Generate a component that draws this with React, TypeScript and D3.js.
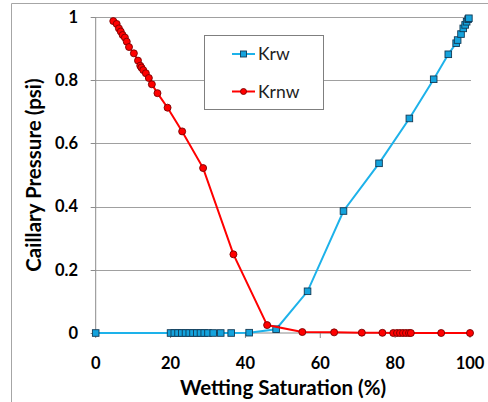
import React from "react";
import * as d3 from "d3";

const krwX = [0, 20, 21, 22, 23, 24, 25, 26, 27, 28, 29, 30, 31.4, 33.4, 36.2, 41.0, 48.2, 56.6, 66.2, 75.7, 83.8, 90.3, 94.2, 96.3, 96.7, 97.6, 98.2, 98.7, 99.1, 99.5, 99.7];
const krwY = [0, 0, 0, 0, 0, 0, 0, 0, 0, 0, 0, 0, 0, 0, 0, 0.001, 0.012, 0.132, 0.386, 0.537, 0.679, 0.803, 0.882, 0.917, 0.927, 0.946, 0.964, 0.975, 0.985, 0.993, 0.996];

const krnwX = [4.7, 5.6, 6.2, 6.7, 7.2, 7.8, 8.3, 8.9, 10.2, 11.3, 11.9, 12.2, 12.7, 13.4, 14.2, 15.0, 16.5, 19.2, 23.1, 28.7, 36.8, 45.8, 55.2, 63.7, 71.1, 76.6, 79.5, 80.5, 81.3, 82.1, 82.9, 83.7, 84.2, 92.3, 100];
const krnwY = [0.987, 0.978, 0.964, 0.954, 0.943, 0.935, 0.922, 0.905, 0.885, 0.862, 0.846, 0.84, 0.832, 0.822, 0.807, 0.787, 0.759, 0.713, 0.638, 0.522, 0.249, 0.025, 0.003, 0.002, 0.001, 0.0005, 0, 0, 0, 0, 0, 0, 0, 0, 0];

const xTicks = [0, 20, 40, 60, 80, 100];
const yTicks = [0, 0.2, 0.4, 0.6, 0.8, 1];
const yTickLabels = ["0", "0.2", "0.4", "0.6", "0.8", "1"];
const seriesNames = ["Krw", "Krnw"];
const xTitle = "Wetting Saturation (%)";
const yTitle = "Caillary Pressure (psi)";

const BLUE = "#1DB2EA";
const BLUE_FILL = "#14A3DD";
const RED = "#FF0000";
const FONT = "Lato, 'Open Sans', sans-serif";

export default function App() {
  const x = d3.scaleLinear().domain([0, 100]).range([95.7, 470]);
  const y = d3.scaleLinear().domain([0, 1]).range([333, 17]);

  const blue = krwX.map((v, i) => [x(v), y(krwY[i])] as [number, number]);
  const red = krnwX.map((v, i) => [x(v), y(krnwY[i])] as [number, number]);
  const line = d3.line();

  return (
    <svg width={488} height={402} style={{ position: "fixed", left: 0, top: 0, background: "#fff" }}>
      <rect x={0} y={0} width={488} height={402} fill="#fff" />
      <path d="M11.5,410 V3.5 H500" fill="none" stroke="#A6A6A6" strokeWidth={1} />
      {/* gridlines */}
      {yTicks.filter(t => t > 0).map(t => (
        <line key={t} x1={x(0)} x2={471} y1={Math.round(y(t)) + 0.5} y2={Math.round(y(t)) + 0.5} stroke="#A0A0A0" strokeWidth={1} />
      ))}
      {/* axes */}
      <line x1={x(0)} x2={x(0)} y1={y(1)} y2={y(0)} stroke="#8C8C8C" strokeWidth={1} />
      <line x1={x(0)} x2={471} y1={y(0)} y2={y(0)} stroke="#8C8C8C" strokeWidth={1} />
      {yTicks.map(t => (
        <line key={"yt" + t} x1={x(0) - 5} x2={x(0)} y1={Math.round(y(t)) + 0.5} y2={Math.round(y(t)) + 0.5} stroke="#8C8C8C" />
      ))}
      {xTicks.map(t => (
        <line key={"xt" + t} x1={x(t)} x2={x(t)} y1={y(0)} y2={y(0) + 5} stroke="#8C8C8C" />
      ))}
      {/* tick labels */}
      {yTicks.map((t, i) => (
        <text key={"yl" + t} x={78} y={y(t)} dy="0.35em" textAnchor="end" fontFamily={FONT} fontWeight="bold" fontSize={16.5} fill="#000">{yTickLabels[i]}</text>
      ))}
      {xTicks.map(t => (
        <text key={"xl" + t} x={x(t)} y={363} dy="0.35em" textAnchor="middle" fontFamily={FONT} fontWeight="bold" fontSize={16.5} fill="#000">{t}</text>
      ))}
      {/* titles */}
      <text x={283} y={388} dy="0.35em" textAnchor="middle" fontFamily={FONT} fontWeight="bold" fontSize={20.5} fill="#000">{xTitle}</text>
      <text transform="translate(33.5,175) rotate(-90)" dy="0.35em" textAnchor="middle" fontFamily={FONT} fontWeight="bold" fontSize={20.5} fill="#000">{yTitle}</text>
      {/* series */}
      <path d={line(blue) || ""} fill="none" stroke={BLUE} strokeWidth={2} />
      {blue.map((p, i) => (
        <rect key={"b" + i} x={p[0] - 3.3} y={p[1] - 3.3} width={6.6} height={6.6} fill={BLUE_FILL} stroke="#123A55" strokeWidth={0.9} />
      ))}
      <path d={line(red) || ""} fill="none" stroke={RED} strokeWidth={2} />
      {red.map((p, i) => (
        <circle key={"r" + i} cx={p[0]} cy={p[1]} r={3.5} fill={RED} stroke="#7A0000" strokeWidth={0.9} />
      ))}
      {/* legend */}
      <rect x={204.5} y={35.5} width={119} height={74} fill="#fff" stroke="#7F7F7F" strokeWidth={1} />
      <line x1={232} x2={255} y1={54} y2={54} stroke={BLUE} strokeWidth={2} />
      <rect x={240.5} y={51} width={6} height={6} fill={BLUE_FILL} stroke="#123A55" strokeWidth={0.9} />
      <text x={258} y={54} dy="0.35em" fontFamily={FONT} fontSize={17.5} fill="#222">{seriesNames[0]}</text>
      <line x1={232} x2={255} y1={91.5} y2={91.5} stroke={RED} strokeWidth={2} />
      <circle cx={243.5} cy={91.5} r={3} fill={RED} stroke="#7A0000" strokeWidth={0.9} />
      <text x={258} y={91.5} dy="0.35em" fontFamily={FONT} fontSize={17.5} fill="#222">{seriesNames[1]}</text>
    </svg>
  );
}
